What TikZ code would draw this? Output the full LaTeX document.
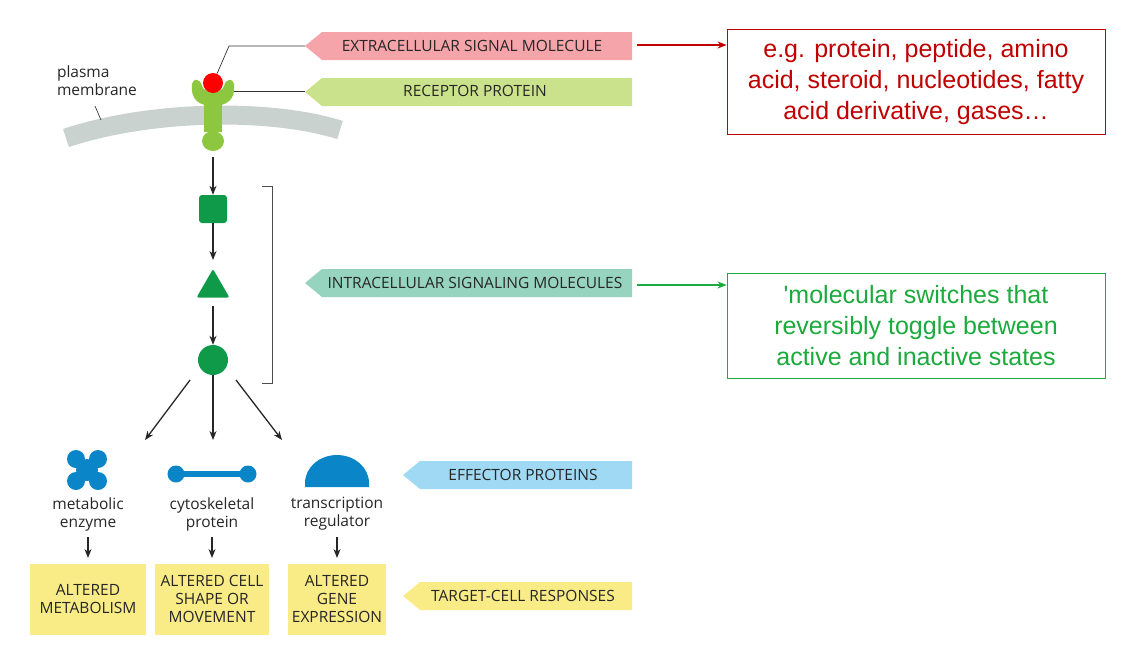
\documentclass[tikz,border=0pt]{standalone}
\usepackage{fontspec}
\setmainfont{Open Sans}
\newfontfamily\boxfont{Liberation Sans}
\usetikzlibrary{arrows.meta,shapes.geometric}
\definecolor{pinkL}{HTML}{F5A5AA}
\definecolor{greenL}{HTML}{CBE28C}
\definecolor{tealL}{HTML}{97D4BF}
\definecolor{blueL}{HTML}{9FD9F4}
\definecolor{yelL}{HTML}{F9EC86}
\definecolor{darkred}{HTML}{C00000}
\definecolor{swgreen}{HTML}{1BAA3C}
\definecolor{memb}{HTML}{C9D2CF}
\definecolor{recg}{HTML}{8DC63F}
\definecolor{molg}{HTML}{0E9A48}
\definecolor{effb}{HTML}{0A86C8}
\tikzset{
 lab/.style={font=\fontsize{15.5}{18}\selectfont, text=black!85},
 small/.style={font=\fontsize{15.5}{18}\selectfont, align=center, text=black!85},
 resp/.style={fill=yelL, minimum width=#1, minimum height=71, align=center, font=\fontsize{15.5}{18}\selectfont, text=black!85, inner sep=0},
 arr/.style={-{Stealth[length=9,width=7]}, line width=1.3, black!85},
 big/.style={draw, line width=0.8, minimum width=378, minimum height=105, align=center, font=\boxfont\fontsize{25}{31}\selectfont, fill=white},
}
\newcommand{\tagshape}[4]{\fill[#4] (#1,#2+14) -- (#1+17,#2) -- (632,#2) -- (632,#2+28) -- (#1+17,#2+28) -- cycle;}
\begin{document}
\begin{tikzpicture}[x=1pt,y=-1pt]
\useasboundingbox (0,0) rectangle (1126,646);
% tags
\tagshape{305}{32}{x}{pinkL}
\tagshape{305}{78}{x}{greenL}
\tagshape{305}{269}{x}{tealL}
\tagshape{403}{461}{x}{blueL}
\tagshape{403}{582}{x}{yelL}
\node[lab] (t1) at (472,46) {EXTRACELLULAR SIGNAL MOLECULE};
\node[lab] (t2) at (475,91) {RECEPTOR PROTEIN};
\node[lab] (t3) at (475,283) {INTRACELLULAR SIGNALING MOLECULES};
\node[lab] (t4) at (523,475) {EFFECTOR PROTEINS};
\node[lab] (t5) at (523,596) {TARGET-CELL RESPONSES};
% big boxes
\node[big, draw=darkred, text=darkred] (b1) at (916,82) {e.g. protein, peptide, amino\\acid, steroid, nucleotides, fatty\\acid derivative, gases\ldots};
\node[big, draw=swgreen, text=swgreen] (b2) at (916,326) {'molecular switches that\\reversibly toggle between\\active and inactive states};
\coordinate (r1) at (637,45);
\coordinate (g1) at (637,285);
\draw[-{Stealth[length=9,width=7]}, line width=2, darkred] (r1) -- (b1.west |- r1);
\draw[-{Stealth[length=9,width=7]}, line width=2, swgreen] (g1) -- (b2.west |- g1);
% membrane
\draw[memb, line width=19] (66,138) .. controls (150,110) and (270,108) .. (340,130);
\node[small, align=left] (pm) at (97,81) {plasma\\membrane};
\draw[black!80, line width=0.7] (95,106) -- (101,120);
% receptor
\fill[recg] (204,98) rectangle (222,132);
\fill[recg] (213,141) ellipse (11 and 10);
\fill[recg] (192,84) .. controls (190,100) and (200,106) .. (213,106) .. controls (226,106) and (236,100) .. (234,84) .. controls (233,78) and (226,78) .. (224,86) .. controls (222,94) and (204,94) .. (202,86) .. controls (200,78) and (193,78) .. (192,84) -- cycle;
\node[circle, fill=red, minimum size=20, inner sep=0] (sig) at (213,83) {};
\coordinate (k1) at (229,46);
\draw[black!80, line width=0.7] (sig) -- (k1) -- (305,46);
\draw[black!80, line width=0.7] (234,91) -- (305,91);
% intracellular
\node[fill=molg, rounded corners=3, minimum size=28, inner sep=0] (sq) at (213,209) {};
\node[fill=molg, regular polygon, regular polygon sides=3, minimum size=38, inner sep=0, rounded corners=2] (tri) at (213,288) {};
\node[circle, fill=molg, minimum size=30, inner sep=0] (ci) at (213,360) {};
\coordinate (a0) at (213,157);
\draw[arr] (a0) -- (sq.north);
\draw[arr] (sq.south) -- (213,260);
\draw[arr] (213,306) -- (ci.north);
\draw[black!70, line width=0.8] (262,186) -- (272,186) -- (272,383) -- (262,383);
% effectors
\coordinate (e1) at (87,470);
\fill[effb] (77,460) rectangle (97,480);
\foreach \dx/\dy in {-1/-1,1/-1,-1/1,1/1} \fill[effb] (87+11*\dx,470+11*\dy) circle (9);
\fill[effb] (87,470) circle (11);
\draw[effb, line width=6] (176,474) -- (248,474);
\fill[effb] (176,474) circle (8.5); \fill[effb] (248,474) circle (8.5);
\fill[effb] (305,487) -- (305,483) arc (180:360:32 and 28) -- (369,487) -- cycle;
\coordinate (e3) at (337,470);
\draw[arr] (190,380) -- (145,440);
\draw[arr] (ci.south) -- (213,440);
\draw[arr] (236,380) -- (282,440);
\node[small] (l1) at (88,514) {metabolic\\enzyme};
\node[small] (l2) at (212,514) {cytoskeletal\\protein};
\node[small] (l3) at (337,514) {transcription\\regulator};
\node[resp=116] (y1) at (88,599) {ALTERED\\METABOLISM};
\node[resp=114] (y2) at (212,599) {ALTERED CELL\\SHAPE OR\\MOVEMENT};
\node[resp=98] (y3) at (337,599) {ALTERED\\GENE\\EXPRESSION};
\draw[arr] (88,537) -- (88,558);
\draw[arr] (212,537) -- (212,558);
\draw[arr] (337,537) -- (337,558);
\end{tikzpicture}
\end{document}
